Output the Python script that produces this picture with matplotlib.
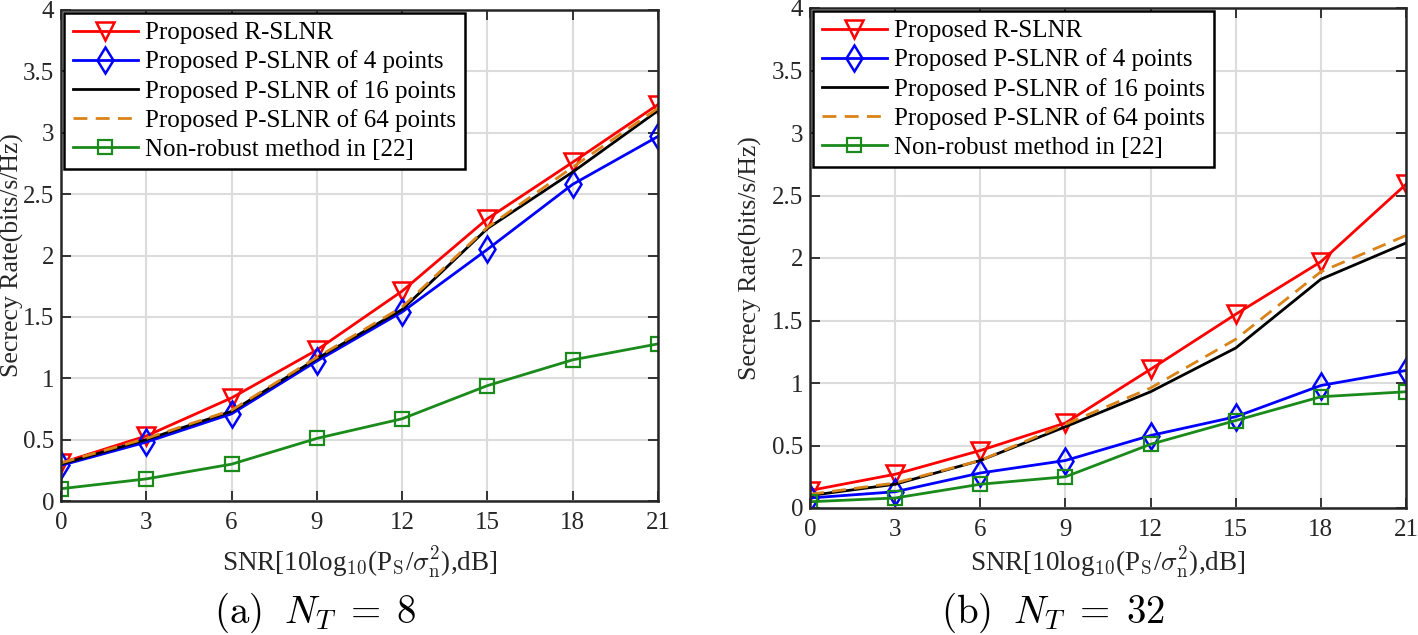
import numpy as np
import matplotlib.pyplot as plt
from matplotlib.ticker import FuncFormatter

plt.rcParams['font.family'] = ['Liberation Serif', 'DejaVu Serif']
plt.rcParams['mathtext.fontset'] = 'cm'

snr = [0, 3, 6, 9, 12, 15, 18, 21]

labels = ["Proposed R-SLNR", "Proposed P-SLNR of 4 points",
          "Proposed P-SLNR of 16 points", "Proposed P-SLNR of 64 points",
          "Non-robust method in [22]"]

# (a) N_T = 8
a_rslnr = [0.31, 0.53, 0.84, 1.23, 1.71, 2.30, 2.76, 3.23]
a_p4 = [0.29, 0.48, 0.71, 1.14, 1.54, 2.05, 2.58, 2.97]
a_p16 = [0.30, 0.50, 0.73, 1.16, 1.56, 2.22, 2.68, 3.18]
a_p64 = [0.31, 0.51, 0.74, 1.17, 1.58, 2.23, 2.72, 3.20]
a_nonrob = [0.10, 0.18, 0.30, 0.51, 0.67, 0.94, 1.15, 1.28]

# (b) N_T = 32
b_rslnr = [0.14, 0.27, 0.46, 0.68, 1.11, 1.55, 1.97, 2.59]
b_p4 = [0.08, 0.13, 0.28, 0.38, 0.58, 0.73, 0.98, 1.10]
b_p16 = [0.10, 0.19, 0.38, 0.65, 0.93, 1.28, 1.83, 2.12]
b_p64 = [0.11, 0.20, 0.38, 0.67, 0.96, 1.35, 1.89, 2.18]
b_nonrob = [0.05, 0.08, 0.19, 0.25, 0.51, 0.70, 0.89, 0.93]

W, H = 1418, 635
fig = plt.figure(figsize=(W / 100, H / 100), dpi=100)
# axes boxes in pixels: left, top, right, bottom
ax1 = fig.add_axes([61 / W, 1 - 501 / H, (658 - 61) / W, (501 - 10) / H])
ax2 = fig.add_axes([810 / W, 1 - 508 / H, (1406 - 810) / W, (508 - 8) / H])

def draw(ax, r, p4, p16, p64, nr, caption, cap_x, xlab_y, ylab_x):
    ax.plot(snr, r, color='red', marker='v', ms=13, mfc='none', mew=1.8, lw=2, label=labels[0])
    ax.plot(snr, p4, color='blue', marker='d', ms=13, mfc='none', mew=1.8, lw=2, label=labels[1])
    ax.plot(snr, p16, color='black', lw=2, label=labels[2])
    ax.plot(snr, p64, color='#d98319', lw=2, ls=(0, (5, 3)), label=labels[3])
    ax.plot(snr, nr, color='#1a8a1a', marker='s', ms=9.5, mfc='none', mew=1.6, lw=2, label=labels[4])
    ax.set_xlim(0, 21)
    ax.set_ylim(0, 4)
    ax.set_xticks(snr)
    ax.set_yticks(np.arange(0, 4.01, 0.5))
    ax.yaxis.set_major_formatter(FuncFormatter(lambda v, p: '%g' % v))
    ax.grid(True, color='#dcdcdc', lw=1.5)
    ax.set_axisbelow(True)
    ax.tick_params(direction='in', length=7, width=1.3, top=True, right=True,
                   labelsize=18, colors='#262626')
    ax.tick_params(axis='x', pad=8)
    ax.tick_params(axis='y', pad=5)
    for s in ax.spines.values():
        s.set_color('#262626')
        s.set_linewidth(1.8)
    ax.set_xlabel(r'SNR[10log$_{10}$(P$_\mathrm{S}$/$\sigma_\mathrm{n}^2$),dB]',
                  fontsize=19.5, color='#262626', va='center')
    ax.xaxis.set_label_coords(0.5, xlab_y)
    ax.set_ylabel('Secrecy Rate(bits/s/Hz)', fontsize=18.5, color='#262626', va='center')
    ax.yaxis.set_label_coords(ylab_x, 0.5)
    leg = ax.legend(loc='upper left', fontsize=18, fancybox=False, framealpha=1,
                    edgecolor='black', borderaxespad=0.12, handlelength=2.6,
                    handletextpad=0.3, labelspacing=0.25, borderpad=0.35)
    leg.get_frame().set_linewidth(1.8)
    fig.text(cap_x / W, 1 - 613 / H, caption, ha='center', va='center', fontsize=28)

draw(ax1, a_rslnr, a_p4, a_p16, a_p64, a_nonrob,
     r'$\mathrm{(a)}\;\ N_T\;=\;8$', 315, -0.126, -0.082)
draw(ax2, b_rslnr, b_p4, b_p16, b_p64, b_nonrob,
     r'$\mathrm{(b)}\;\ N_T\;=\;32$', 1053, -0.11, -0.10)

fig.savefig('out.png', dpi=100)
